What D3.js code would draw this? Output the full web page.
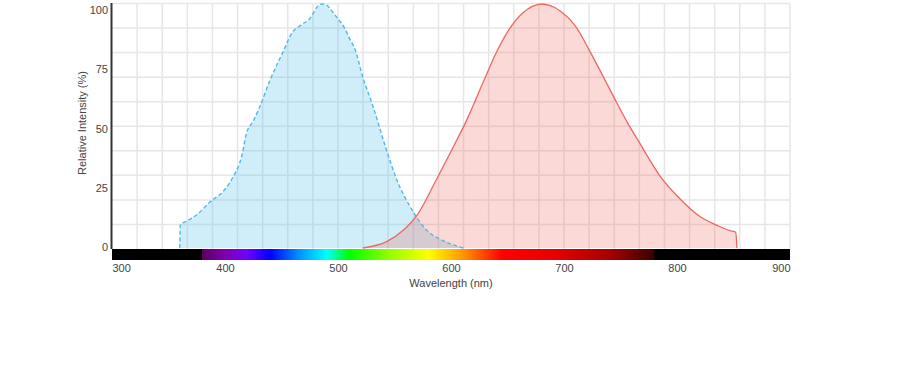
<!DOCTYPE html>
<html lang="en">
<head>
  <meta charset="UTF-8">
  <title>Excitation / Emission spectrum</title>
  <script src="https://d3js.org/d3.v7.min.js"></script>
  <style>
    body { margin: 0; background: #fff; }
    text { font-family: Arial, "Liberation Sans", sans-serif; fill: #444; }
  </style>
</head>
<body>

<div id="chart"></div>

<script>
  // excitation (blue, dashed)
  const exWavelength = [360, 360.5, 366, 376, 387, 398, 407, 415, 419, 425, 430, 440, 452, 459, 466, 475, 483, 486, 490, 494, 499, 506, 510, 515, 522, 531, 542, 552, 565, 578, 593, 611];
  const exValue      = [0, 9.5, 11, 14, 19, 23, 29, 38, 47, 52, 57, 69, 81, 88, 91, 94, 99.5, 100, 99.5, 97.5, 94.5, 90, 86, 81.5, 70, 58, 41.5, 28, 16, 7.5, 3, 0];

  // emission (red, solid)
  const emWavelength = [522, 543, 558, 570, 587, 601, 614, 629, 640, 652, 664, 672, 680, 688, 697, 710, 723, 735, 745, 756, 767, 785, 803, 820, 835, 847, 851, 852, 853];
  const emValue      = [0, 2.6, 7.4, 13.5, 28, 40.5, 52.5, 68.5, 80, 90, 96.5, 99, 100, 99.3, 97, 91, 80.5, 70, 61, 51.5, 43, 29.5, 20, 13, 9.4, 7.1, 6.7, 6.5, 0];

  // axis ticks
  const xTicks = [300, 400, 500, 600, 700, 800, 900];
  const yTicks = [0, 25, 50, 75, 100];

  // visible spectrum colour stops under the x axis
  const specNm    = [300, 380, 380, 400, 420, 440, 465, 490, 510, 545, 580, 612, 645, 690, 740, 780, 780, 900];
  const specColor = ["#000", "#000", "#5a0060", "#8000b0", "#7000ff", "#0000ff", "#0090ff", "#00ffff", "#00ff00", "#90ff00", "#ffff00", "#ff9000", "#ff0000", "#e80000", "#a80000", "#3a0000", "#000", "#000"];

  const width = 916, height = 371;
  const plotLeft = 112, plotRight = 790, plotTop = 3.5, plotBottom = 249;

  const svg = d3.select("#chart")
          .append("svg")
          .attr("width", width)
          .attr("height", height);

  const x = d3.scaleLinear().domain([300, 900]).range([plotLeft, plotRight]);
  const y = d3.scaleLinear().domain([0, 100]).range([248, 4]);
  // the labels sit slightly off the data scale in the original
  const yLabel = d3.scaleLinear().domain([0, 100]).range([247, 10]);

  // grid (27 columns, 10 rows, independent of ticks)
  const gx = d3.scaleLinear().domain([0, 27]).range([plotLeft, plotRight]);
  const gy = d3.scaleLinear().domain([0, 10]).range([plotBottom, plotTop]);
  const grid = svg.append("g").attr("stroke", "#e6e6e6").attr("stroke-width", 1.5);
  grid.selectAll(".v").data(d3.range(1, 28)).enter().append("line")
          .attr("x1", d => gx(d)).attr("x2", d => gx(d))
          .attr("y1", plotTop).attr("y2", plotBottom);
  grid.selectAll(".h").data(d3.range(1, 11)).enter().append("line")
          .attr("x1", plotLeft).attr("x2", plotRight)
          .attr("y1", d => gy(d)).attr("y2", d => gy(d));

  const exData = exWavelength.map((w, i) => [w, exValue[i]]);
  const emData = emWavelength.map((w, i) => [w, emValue[i]]);

  const area = d3.area().x(d => x(d[0])).y0(y(0)).y1(d => y(d[1])).curve(d3.curveMonotoneX);
  const line = d3.line().x(d => x(d[0])).y(d => y(d[1])).curve(d3.curveMonotoneX);

  svg.append("path").datum(exData).attr("d", area)
          .attr("fill", "rgba(80,190,235,0.27)");
  svg.append("path").datum(emData).attr("d", area)
          .attr("fill", "rgba(240,95,85,0.24)");

  svg.append("path").datum(exData).attr("d", line)
          .attr("fill", "none").attr("stroke", "#52b8e8")
          .attr("stroke-width", 1.4).attr("stroke-dasharray", "4,2.5");
  svg.append("path").datum(emData).attr("d", line)
          .attr("fill", "none").attr("stroke", "#ee6760")
          .attr("stroke-width", 1.3);

  // spectrum bar
  const grad = svg.append("defs").append("linearGradient")
          .attr("id", "spectrum")
          .attr("gradientUnits", "userSpaceOnUse")
          .attr("x1", x(300)).attr("x2", x(900)).attr("y1", 0).attr("y2", 0);
  grad.selectAll("stop").data(specNm).enter().append("stop")
          .attr("offset", d => (d - 300) / 600)
          .attr("stop-color", (_, i) => specColor[i]);
  svg.append("rect")
          .attr("x", x(300)).attr("y", plotBottom)
          .attr("width", x(900) - x(300)).attr("height", 11)
          .attr("fill", "url(#spectrum)");

  // left axis line
  svg.append("line")
          .attr("x1", plotLeft - 0.5).attr("x2", plotLeft - 0.5)
          .attr("y1", plotTop - 0.5).attr("y2", plotBottom)
          .attr("stroke", "#333").attr("stroke-width", 2);

  // y axis labels
  const yAxis = svg.append("g")
          .attr("transform", "translate(" + plotLeft + ",0)")
          .call(d3.axisLeft(yLabel).tickValues(yTicks).tickSize(0).tickPadding(4));
  yAxis.select(".domain").remove();
  yAxis.selectAll("text").style("font-size", "11px").attr("fill", "#444");

  // x axis labels
  const xAxis = svg.append("g")
          .attr("transform", "translate(0," + (plotBottom + 11) + ")")
          .call(d3.axisBottom(x).tickValues(xTicks).tickSize(0).tickPadding(4));
  xAxis.select(".domain").remove();
  xAxis.selectAll("text").style("font-size", "11px").attr("fill", "#444")
          .attr("text-anchor", d => d === 300 ? "start" : d === 900 ? "end" : "middle");

  svg.append("text")
          .attr("x", 451).attr("y", 287)
          .attr("text-anchor", "middle")
          .style("font-size", "11px")
          .text("Wavelength (nm)");

  svg.append("text")
          .attr("transform", "translate(86,123) rotate(-90)")
          .attr("text-anchor", "middle")
          .style("font-size", "11px")
          .text("Relative Intensity (%)");
</script>

</body>
</html>
